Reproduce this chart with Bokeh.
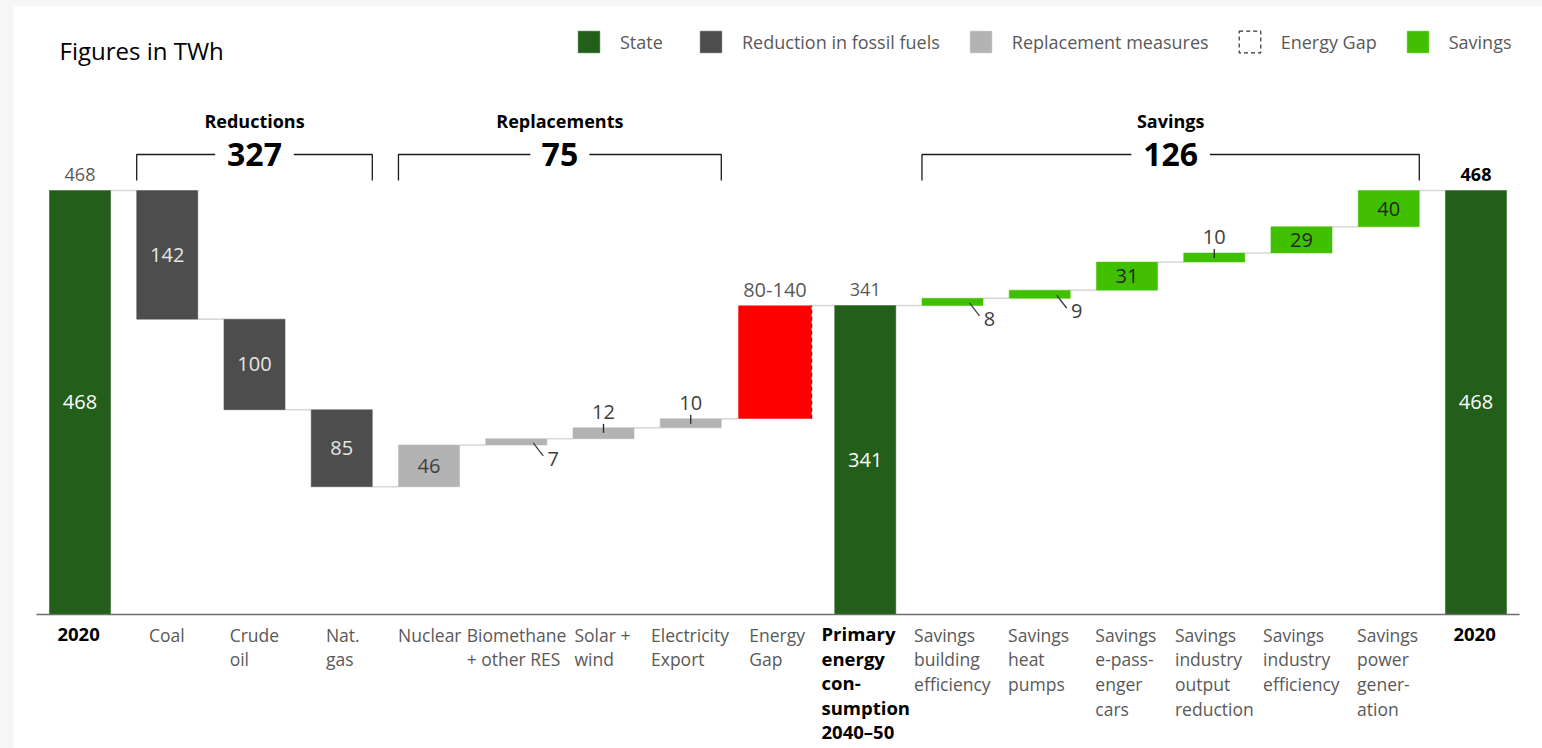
from bokeh.plotting import figure
from bokeh.models import ColumnDataSource, Range1d, Legend, LegendItem
from bokeh.core.properties import value
from bokeh.embed import file_html
from bokeh.resources import INLINE

# ---------------- data ----------------
categories = ["2020", "Coal", "Crude\noil", "Nat.\ngas", "Nuclear", "Biomethane\n+ other RES",
              "Solar +\nwind", "Electricity\nExport", "Energy\nGap",
              "Primary\nenergy\ncon-\nsumption\n2040\u201350",
              "Savings\nbuilding\nefficiency", "Savings\nheat\npumps", "Savings\ne-pass-\nenger\ncars",
              "Savings\nindustry\noutput\nreduction", "Savings\nindustry\nefficiency",
              "Savings\npower\ngener-\nation", "2020"]
kinds = ["State", "Reduction", "Reduction", "Reduction", "Replacement", "Replacement", "Replacement",
         "Replacement", "Gap", "State", "Savings", "Savings", "Savings", "Savings", "Savings", "Savings", "State"]
values = [468, -142, -100, -85, 46, 7, 12, 10, None, 341, 8, 9, 31, 10, 29, 40, 468]
value_labels = ["468", "142", "100", "85", "46", "7", "12", "10", "", "341", "8", "9", "31", "10", "29", "40", "468"]
label_modes = ["in", "in", "in", "in", "in", "leader", "tick", "tick", "none", "in",
               "leader", "leader", "in", "tick", "in", "in", "in"]
top_labels = ["468", "", "", "", "", "", "", "", "80-140", "341", "", "", "", "", "", "", "468"]
bold_cats = [True, False, False, False, False, False, False, False, False, True,
             False, False, False, False, False, False, True]

group_names = ["Reductions", "Replacements", "Savings"]
group_first = [1, 4, 10]
group_last = [3, 7, 15]
group_totals = ["327", "75", "126"]

legend_kinds = ["State", "Reduction", "Replacement", "Gap", "Savings"]
legend_labels = ["State", "Reduction in fossil fuels", "Replacement measures", "Energy Gap", "Savings"]

# ---------------- style ----------------
FONT = "Open Sans"
COLORS = {"State": "#235E1B", "Reduction": "#4D4D4D", "Replacement": "#B3B3B3",
          "Gap": "#FF0000", "Savings": "#40C000"}
IN_COLORS = {"State": "#FFFFFF", "Reduction": "#E6E6E6", "Replacement": "#404040",
             "Savings": "#262626", "Gap": "#404040"}
PAD_L, PAD_T = 13, 6
W, H = 1542 - PAD_L, 748 - PAD_T
PX_X = 87.25          # px per category
PX_Y = 0.906          # px per TWh
X0_PX = 79.5 - PAD_L  # frame px of first category centre
Y0_PX = 614.0 - PAD_T  # frame px (from top) of zero line
BAR_W = 0.7
GAP_W = 0.84
GAP_SHIFT = -0.035


def dx(px):
    return px / PX_X


def dy(px):
    return px / PX_Y


CW = {}
for ch in "ijl.,:;'|!":
    CW[ch] = 0.26
for ch in "ft":
    CW[ch] = 0.34
CW["r"] = 0.41
for ch in "szc":
    CW[ch] = 0.48
for ch in "vyxk":
    CW[ch] = 0.5
for ch in "aeg":
    CW[ch] = 0.56
for ch in "bdhnopqu":
    CW[ch] = 0.61
for ch in "mw":
    CW[ch] = 0.9
for ch in "0123456789+":
    CW[ch] = 0.57
CW["-"] = 0.32
CW["\u2013"] = 0.5
CW[" "] = 0.26


def est_width(s, size, bold=False):
    best = 0
    for line in s.split("\n"):
        w = 0
        for ch in line:
            if ch in CW:
                w += CW[ch]
            elif ch.isupper():
                w += 0.9 if ch in "MW" else (0.3 if ch == "I" else 0.65)
            else:
                w += 0.56
        best = max(best, w)
    return best * size * (1.07 if bold else 1.0)


# ---------------- waterfall geometry ----------------
n = len(categories)
xs = list(range(n))
bottoms, tops, ends = [], [], []
level = 0
for i in range(n):
    k, v = kinds[i], values[i]
    if k == "State":
        b, t = 0, v
        level = v
    elif k == "Gap":
        b, t = level, values[i + 1]
        level = t
    elif v < 0:
        b, t = level + v, level
        level = b
    else:
        b, t = level, level + v
        level = t
    bottoms.append(b)
    tops.append(t)
    ends.append(level)

p = figure(width=W, height=H, output_backend="svg", toolbar_location=None,
           x_range=Range1d(-X0_PX / PX_X, (W - X0_PX) / PX_X),
           y_range=Range1d(-(H - Y0_PX) / PX_Y, Y0_PX / PX_Y),
           x_axis_type=None, y_axis_type=None, min_border=0,
           outline_line_color=None, background_fill_color="white", border_fill_color="white")

# connectors
cx0, cx1, cy = [], [], []
for i in range(n - 1):
    right = i + (GAP_SHIFT + GAP_W / 2 if kinds[i] == "Gap" else BAR_W / 2)
    left = i + 1 - (BAR_W / 2 if kinds[i + 1] != "Gap" else GAP_W / 2 - GAP_SHIFT)
    cx0.append(right)
    cx1.append(left)
    cy.append(ends[i])
p.segment(x0=cx0, y0=cy, x1=cx1, y1=cy, line_color="#D9D9D9", line_width=1.6)

# bars
renderers = {}
for k in ["State", "Reduction", "Replacement", "Savings"]:
    idx = [i for i in range(n) if kinds[i] == k]
    src = ColumnDataSource(dict(x=[xs[i] for i in idx], top=[tops[i] for i in idx],
                                bottom=[bottoms[i] for i in idx]))
    renderers[k] = p.vbar(x="x", top="top", bottom="bottom", width=BAR_W, source=src,
                          fill_color=COLORS[k], line_color=COLORS[k], line_width=0.5)

gi = [i for i in range(n) if kinds[i] == "Gap"]
gsrc = ColumnDataSource(dict(x=[xs[i] + GAP_SHIFT for i in gi], top=[tops[i] for i in gi],
                             bottom=[bottoms[i] for i in gi],
                             edge=[xs[i] + GAP_SHIFT + GAP_W / 2 for i in gi]))
p.vbar(x="x", top="top", bottom="bottom", width=GAP_W, source=gsrc,
       fill_color=COLORS["Gap"], line_color=None)
p.segment(x0="edge", y0="bottom", x1="edge", y1="top", source=gsrc,
          line_color="#333333", line_width=1.3, line_dash="4 3")
# legend-only glyph for the energy gap (hidden in the plot)
renderers["Gap"] = p.vbar(x="x", top="top", bottom="bottom", width=GAP_W, source=gsrc,
                          fill_alpha=0, line_color="#333333", line_width=1.2, line_dash="4 3",
                          visible=False)

# axis line
p.segment(x0=[-0.5], y0=[0], x1=[n - 0.5], y1=[0], line_color="#6E6E6E", line_width=1.6)

# inside labels
ii = [i for i in range(n) if label_modes[i] == "in"]
p.text(x=[xs[i] for i in ii], y=[(tops[i] + bottoms[i]) / 2 for i in ii],
       text=[value_labels[i] for i in ii], text_color=[IN_COLORS[kinds[i]] for i in ii],
       text_align="center", text_baseline="middle", text_font=value(FONT), text_font_size="20px")

# leader labels
li = [i for i in range(n) if label_modes[i] == "leader"]
p.segment(x0=[xs[i] + dx(17) for i in li], y0=[(tops[i] + bottoms[i]) / 2 - dy(1) for i in li],
          x1=[xs[i] + dx(27) for i in li], y1=[(tops[i] + bottoms[i]) / 2 - dy(14) for i in li],
          line_color="#404040", line_width=1.3)
p.text(x=[xs[i] + dx(37) for i in li], y=[(tops[i] + bottoms[i]) / 2 - dy(17) for i in li],
       text=[value_labels[i] for i in li], text_color="#404040",
       text_align="center", text_baseline="middle", text_font=value(FONT), text_font_size="20px")

# tick labels
ti = [i for i in range(n) if label_modes[i] == "tick"]
p.segment(x0=[xs[i] for i in ti], y0=[tops[i] - dy(5) for i in ti],
          x1=[xs[i] for i in ti], y1=[tops[i] + dy(4) for i in ti],
          line_color="#262626", line_width=1.3)
p.text(x=[xs[i] for i in ti], y=[tops[i] + dy(16) for i in ti],
       text=[value_labels[i] for i in ti], text_color="#404040",
       text_align="center", text_baseline="middle", text_font=value(FONT), text_font_size="20px")

# top labels
up = [i for i in range(n) if top_labels[i]]
p.text(x=[xs[i] + (GAP_SHIFT if kinds[i] == "Gap" else 0) for i in up],
       y=[tops[i] + dy(16) for i in up],
       text=[top_labels[i] for i in up],
       text_color=["#000000" if (bold_cats[i] and i == n - 1) else "#595959" for i in up],
       text_font_style=["bold" if (bold_cats[i] and i == n - 1) else "normal" for i in up],
       text_font_size=["20px" if kinds[i] == "Gap" else "18px" for i in up],
       text_align="center", text_baseline="middle", text_font=value(FONT))

# category labels (normal and bold drawn separately for their own line heights)
CAT_SIZE = 17.5
BOLD_SIZE = 18.5
ni = [i for i in range(n) if not bold_cats[i]]
bi = [i for i in range(n) if bold_cats[i]]
p.text(x=[xs[i] - dx(est_width(categories[i], CAT_SIZE) / 2) for i in ni],
       y=[-dy(8)] * len(ni), text=[categories[i] for i in ni],
       text_color="#595959", text_align="left", text_baseline="top", text_font=value(FONT),
       text_font_size=f"{CAT_SIZE}px", text_line_height=1.04)
p.text(x=[xs[i] - dx(est_width(categories[i], BOLD_SIZE, True) / 2) for i in bi],
       y=[-dy(6.5 if "\n" in categories[i] else 13.5) for i in bi], text=[categories[i] for i in bi],
       text_color="#000000", text_font_style="bold", text_align="left", text_baseline="top",
       text_font=value(FONT), text_font_size=f"{BOLD_SIZE}px", text_line_height=0.98)

# group brackets
BRACKET_Y = max(tops) + dy(36)
TICK_Y = max(tops) + dy(10)
for name, f, l, tot in zip(group_names, group_first, group_last, group_totals):
    xl = f - BAR_W / 2
    xr = l + BAR_W / 2
    xc = (xl + xr) / 2
    half = dx(est_width(tot, 32, True) / 2 + 10)
    p.line(x=[xl, xl, xc - half], y=[TICK_Y, BRACKET_Y, BRACKET_Y], line_color="#1A1A1A", line_width=1.3)
    p.line(x=[xc + half, xr, xr], y=[BRACKET_Y, BRACKET_Y, TICK_Y], line_color="#1A1A1A", line_width=1.3)
    p.text(x=[xc], y=[BRACKET_Y], text=[tot], text_align="center", text_baseline="middle",
           text_font=value(FONT), text_font_size="32px", text_font_style="bold", text_color="#000000")
    p.text(x=[xc], y=[BRACKET_Y + dy(33)], text=[name], text_align="center", text_baseline="middle",
           text_font=value(FONT), text_font_size="18px", text_font_style="bold", text_color="#000000")

# title
p.text(x=[-X0_PX / PX_X + dx(46)], y=[Y0_PX / PX_Y - dy(44)], text=["Figures in TWh"],
       text_align="left", text_baseline="middle", text_font=value(FONT), text_font_size="24px",
       text_color="#000000")

# legend (area legend glyphs are drawn at 80% of the glyph box)
GLYPH = 27
legend = Legend(items=[LegendItem(label=lab, renderers=[renderers[k]])
                       for k, lab in zip(legend_kinds, legend_labels)],
                orientation="horizontal", location=(562, H - 49),
                glyph_width=GLYPH, glyph_height=GLYPH, label_height=GLYPH, label_width=50,
                label_standoff=18, spacing=27, padding=0, margin=0,
                border_line_alpha=0, background_fill_alpha=0,
                label_text_font=FONT, label_text_font_size="18px", label_text_color="#595959")
p.add_layout(legend)

html = file_html(p, INLINE)
style = ("<style>html, body { background-color: #F6F6F6 !important; }"
         " body { padding: %dpx 0 0 %dpx !important; }</style></head>" % (PAD_T, PAD_L))
html = html.replace("</head>", style, 1)
open("out.html", "w").write(html)
